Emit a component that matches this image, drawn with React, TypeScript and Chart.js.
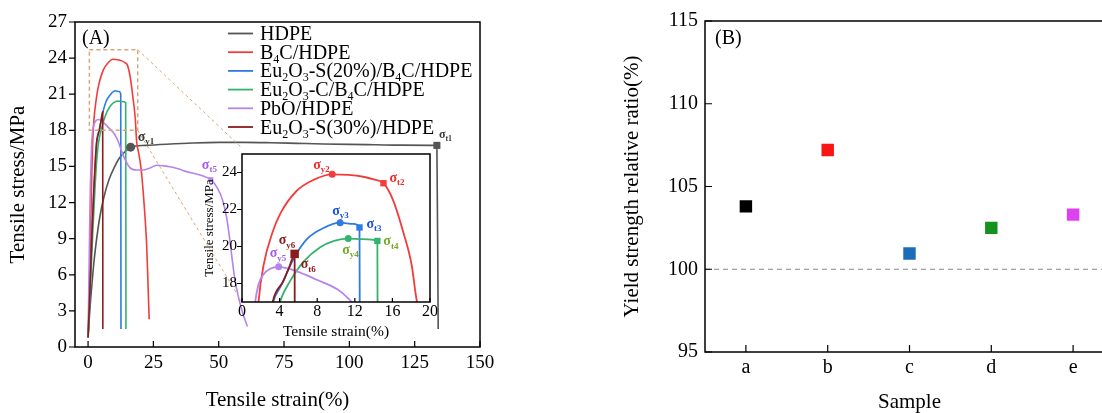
import React, { useEffect, useRef } from 'react';
import { Chart, registerables } from 'chart.js';

Chart.register(...registerables);

const SERIF = '"Liberation Serif", "Times New Roman", Times, serif';

// ---------- Panel A data ----------
const seriesNames = [
  'HDPE',
  'B₄C/HDPE',
  'Eu₂O₃-S(20%)/B₄C/HDPE',
  'Eu₂O₃-C/B₄C/HDPE',
  'PbO/HDPE',
  'Eu₂O₃-S(30%)/HDPE',
];
const seriesColors = ['#555555', '#f23c3c', '#2f7be0', '#34b36e', '#b784ec', '#8b1c1c'];

const hdpeStrain = [0, 0.5, 1, 2, 3, 4.5, 6, 8, 10, 12, 14, 16.3, 22, 30, 40, 50, 60, 70, 80, 90, 100, 110, 120, 133.5, 134];
const hdpeStress = [0.8, 2.5, 4, 6.5, 8.5, 10.8, 12.4, 13.9, 14.9, 15.7, 16.2, 16.6, 16.75, 16.85, 16.95, 17.0, 17.0, 16.97, 16.92, 16.87, 16.83, 16.8, 16.77, 16.75, 1.5];

const b4cStrain = [0, 0.3, 0.7, 1.1, 1.45, 1.77, 2.3, 3.2, 4.1, 5.8, 7.6, 9.6, 11.3, 12.9, 14.2, 15.05, 16.1, 17.2, 18.05, 18.6, 19.3, 20.3, 21.1, 21.8, 22.4, 22.8, 23.1, 23.4];
const b4cStress = [0.8, 3, 7, 11, 14.5, 17.06, 19.0, 20.7, 21.8, 23.0, 23.6, 23.9, 23.87, 23.77, 23.6, 23.42, 22.47, 20.7, 19.0, 17.06, 16.2, 14.8, 12.9, 10.8, 8.6, 6.2, 4.2, 2.3];

const euS20Strain = [0, 0.5, 1.0, 1.6, 2.2, 2.8, 3.36, 4.07, 5.5, 6.9, 8.67, 10.44, 11.86, 12.5, 12.6];
const euS20Stress = [0.8, 3.5, 6.5, 10, 13, 15.5, 17.06, 17.8, 19.35, 20.4, 21.0, 21.29, 21.22, 21.03, 1.5];

const euCStrain = [0, 0.6, 1.2, 1.9, 2.6, 3.3, 4.07, 5.13, 6.55, 8.32, 9.8, 11.3, 12.9, 14.4, 14.5];
const euCStress = [0.8, 3.5, 6.5, 10, 13, 15.5, 17.06, 18.14, 19.18, 19.96, 20.3, 20.43, 20.4, 20.3, 1.5];

const pboStrain = [0, 0.3, 0.6, 0.9, 1.2, 1.42, 1.77, 2.3, 3.0, 3.9, 5.84, 7.96, 10.1, 11.3, 13.5, 16, 18.5, 21, 23.5, 26.3, 29, 31.3, 34.5, 37.7, 41, 44, 47, 49.5, 51.5, 53, 54.2, 55.2, 56.2, 57.5, 59.2, 61];
const pboStress = [0.8, 5, 10, 13.5, 15.8, 17.06, 17.97, 18.5, 18.8, 18.9, 18.66, 18.2, 17.7, 17.2, 15.9, 14.9, 14.7, 14.7, 14.85, 15.1, 15.05, 14.98, 14.8, 14.57, 14.4, 14.2, 13.9, 13.2, 12.2, 10.8, 9.0, 7.2, 5.6, 4.2, 2.8, 1.7];

const euS30Strain = [0, 0.5, 1.0, 1.6, 2.2, 2.8, 3.29, 4.42, 5.0, 5.6, 5.65];
const euS30Stress = [0.8, 3.5, 6.5, 10, 13, 15.5, 17.06, 18.14, 18.85, 19.55, 1.5];

const strainSets = [hdpeStrain, b4cStrain, euS20Strain, euCStrain, pboStrain, euS30Strain];
const stressSets = [hdpeStress, b4cStress, euS20Stress, euCStress, pboStress, euS30Stress];

// characteristic points (yield / break)
const keyNames = ['σy1', 'σt1', 'σt5', 'σy2', 'σt2', 'σy3', 'σt3', 'σy4', 'σt4', 'σy5', 'σy6', 'σt6'];
const keyStrain = [16.3, 133.5, 47, 9.6, 15.05, 10.44, 12.5, 11.3, 14.4, 3.9, 5.6, 5.6];
const keyStress = [16.6, 16.75, 13.9, 23.9, 23.42, 21.29, 21.03, 20.43, 20.3, 18.9, 19.6, 19.6];
const keySeries = [0, 0, 4, 1, 1, 2, 2, 3, 3, 4, 5, 5];
const mainKeys = ['σy1', 'σt1', 'σt5'];

const strainTicks = [0, 25, 50, 75, 100, 125, 150];
const stressTicks = [0, 3, 6, 9, 12, 15, 18, 21, 24, 27];
const insetStrainTicks = [0, 4, 8, 12, 16, 20];
const insetStressTicks = [18, 20, 22, 24];
const zoomBoxStrain = [0.5, 19];
const zoomBoxStress = [18, 24.7];

// ---------- Panel B data ----------
const samples = ['a', 'b', 'c', 'd', 'e'];
const yieldRatio = [103.8, 107.2, 100.95, 102.5, 103.3];
const sampleColors = ['#000000', '#fa1414', '#1a6db6', '#15921c', '#e040f4'];
const ratioTicks = [95, 100, 105, 110, 115];
const referenceRatio = 100;

// ---------- styles ----------
const labelColors = ['#3a3a3a', '#f02a2a', '#1d4fe6', '#74aa2c', '#a45cf0', '#8b1a1a'];
const labelOffsets: Record<string, [number, number]> = {
  'σy1': [7, -10], 'σt1': [2, -10], 'σt5': [-9, -14],
  'σy2': [-19, -9], 'σt2': [6, -5], 'σy3': [-8, -11], 'σt3': [7, -3],
  'σy4': [-6, 12], 'σt4': [6, 1], 'σy5': [-9, -13], 'σy6': [-16, -13], 'σt6': [6, 11],
};

const INSET = { x: 195, y: 140, w: 250, h: 205, l: 47, t: 8, r: 15, b: 43 };
const INSET_LEFT = INSET.x + INSET.l;
const INSET_TOP = INSET.y + INSET.t;
const INSET_BOTTOM = INSET.y + INSET.h - INSET.b;

const SUBS: Record<string, string> = { '₀': '0', '₁': '1', '₂': '2', '₃': '3', '₄': '4' };

function drawRich(ctx: CanvasRenderingContext2D, text: string, x: number, baseline: number, size: number) {
  const segs: { t: string; sub: boolean }[] = [];
  for (const ch of text) {
    const sub = ch in SUBS;
    const c = sub ? SUBS[ch] : ch;
    if (segs.length && segs[segs.length - 1].sub === sub) segs[segs.length - 1].t += c;
    else segs.push({ t: c, sub });
  }
  let cx = x;
  for (const s of segs) {
    ctx.font = `${s.sub ? Math.round(size * 0.62) : size}px ${SERIF}`;
    ctx.fillText(s.t, cx, baseline + (s.sub ? size * 0.2 : 0));
    cx += ctx.measureText(s.t).width;
  }
}

function drawSigma(ctx: CanvasRenderingContext2D, name: string, x: number, yc: number, color: string, size: number) {
  ctx.fillStyle = color;
  ctx.textBaseline = 'alphabetic';
  ctx.textAlign = 'left';
  const base = yc + size * 0.24;
  ctx.font = `bold ${size}px ${SERIF}`;
  ctx.fillText('σ', x, base);
  const w = ctx.measureText('σ').width;
  ctx.font = `bold ${Math.round(size * 0.64)}px ${SERIF}`;
  ctx.fillText(name.slice(1), x + w, base + size * 0.24);
}

function makeFrame(o: { xIn: boolean; xLen: number; yIn: boolean; yLen: number; lw: number }) {
  return {
    id: 'frame',
    afterDraw(chart: any) {
      const { ctx, chartArea: ca } = chart;
      const xs = chart.scales.x;
      const ys = chart.scales.y;
      ctx.save();
      ctx.strokeStyle = '#000';
      ctx.lineWidth = o.lw;
      ctx.setLineDash([]);
      ctx.strokeRect(ca.left, ca.top, ca.right - ca.left, ca.bottom - ca.top);
      ctx.lineWidth = 1.2;
      ctx.beginPath();
      xs.ticks.forEach((_t: any, i: number) => {
        const p = xs.getPixelForTick(i);
        ctx.moveTo(p, ca.bottom);
        ctx.lineTo(p, ca.bottom + (o.xIn ? -o.xLen : o.xLen));
      });
      ys.ticks.forEach((_t: any, i: number) => {
        const p = ys.getPixelForTick(i);
        ctx.moveTo(ca.left, p);
        ctx.lineTo(ca.left + (o.yIn ? o.yLen : -o.yLen), p);
      });
      ctx.stroke();
      ctx.restore();
    },
  };
}

function lineDatasets(width: number) {
  return seriesNames.map((name, i) => ({
    label: name,
    data: strainSets[i].map((x, k) => ({ x, y: stressSets[i][k] })),
    showLine: true,
    borderColor: seriesColors[i],
    backgroundColor: seriesColors[i],
    borderWidth: width,
    pointRadius: 0,
    pointHoverRadius: 0,
    cubicInterpolationMode: 'monotone' as const,
    order: 7 - i,
  }));
}

function markerDataset(names: string[], sizes: Record<string, number>) {
  const idx = keyNames.map((n, i) => i).filter((i) => names.includes(keyNames[i]));
  return {
    label: 'markers',
    data: idx.map((i) => ({ x: keyStrain[i], y: keyStress[i] })),
    showLine: false,
    pointStyle: idx.map((i) => (keyNames[i].startsWith('σt') || keyNames[i] === 'σy6' ? 'rect' : 'circle')),
    pointRadius: idx.map((i) => sizes[keyNames[i]] ?? (keyNames[i].startsWith('σt') ? 4.5 : 3.5)),
    pointHoverRadius: idx.map((i) => sizes[keyNames[i]] ?? 4),
    pointBackgroundColor: idx.map((i) => seriesColors[keySeries[i]]),
    pointBorderColor: idx.map((i) => seriesColors[keySeries[i]]),
    pointBorderWidth: 0,
    order: 0,
  };
}

function axisTicks(values: number[]) {
  return (s: any) => {
    s.ticks = values.map((v) => ({ value: v }));
  };
}

export default function App() {
  const mainRef = useRef<HTMLCanvasElement>(null);
  const insetRef = useRef<HTMLCanvasElement>(null);
  const rightRef = useRef<HTMLCanvasElement>(null);

  useEffect(() => {
    Chart.defaults.font.family = SERIF;
    Chart.defaults.color = '#000';

    const mainOverlay = {
      id: 'mainOverlay',
      afterDatasetsDraw(chart: any) {
        const { ctx } = chart;
        const x = chart.scales.x;
        const y = chart.scales.y;
        ctx.save();
        // zoom box + connectors
        const bx1 = x.getPixelForValue(zoomBoxStrain[0]);
        const bx2 = x.getPixelForValue(zoomBoxStrain[1]);
        const by1 = y.getPixelForValue(zoomBoxStress[1]);
        const by2 = y.getPixelForValue(zoomBoxStress[0]);
        ctx.strokeStyle = '#d9a677';
        ctx.lineWidth = 1.5;
        ctx.setLineDash([4, 3]);
        ctx.strokeRect(bx1, by1, bx2 - bx1, by2 - by1);
        ctx.lineWidth = 1;
        ctx.setLineDash([3, 3]);
        ctx.beginPath();
        ctx.moveTo(bx2, by1);
        ctx.lineTo(INSET_LEFT, INSET_TOP);
        ctx.moveTo(bx2, by2);
        ctx.lineTo(INSET_LEFT, INSET_BOTTOM);
        ctx.stroke();
        ctx.setLineDash([]);
        // legend
        ctx.textBaseline = 'alphabetic';
        ctx.textAlign = 'left';
        seriesNames.forEach((name, i) => {
          const base = 40 + i * 18.7;
          ctx.strokeStyle = seriesColors[i];
          ctx.lineWidth = 1.8;
          ctx.beginPath();
          ctx.moveTo(228, base - 6.5);
          ctx.lineTo(253, base - 6.5);
          ctx.stroke();
          ctx.fillStyle = '#000';
          drawRich(ctx, name, 260, base, 20);
        });
        // panel label
        ctx.fillStyle = '#000';
        ctx.font = `20px ${SERIF}`;
        ctx.fillText('(A)', 82, 44);
        // sigma labels
        keyNames.forEach((n, i) => {
          if (!mainKeys.includes(n)) return;
          const [dx, dy] = labelOffsets[n];
          const px = x.getPixelForValue(keyStrain[i]);
          const py = y.getPixelForValue(keyStress[i]);
          drawSigma(ctx, n, px + dx, py + dy, labelColors[keySeries[i]], n === 'σt1' ? 12 : 14);
        });
        ctx.restore();
      },
    };

    const main = new Chart(mainRef.current!, {
      type: 'scatter',
      data: {
        datasets: [
          ...lineDatasets(1.6),
          markerDataset(mainKeys, { 'σy1': 4.5, 'σt1': 5, 'σt5': 3.5 }),
        ] as any,
      },
      options: {
        responsive: false,
        animation: false,
        devicePixelRatio: 1,
        events: [],
        layout: { padding: { left: 0, top: 22, right: 40, bottom: 0 } },
        plugins: { legend: { display: false }, tooltip: { enabled: false } },
        scales: {
          x: {
            type: 'linear',
            min: -5,
            max: 150,
            grid: { display: false, drawTicks: false },
            border: { display: false },
            afterBuildTicks: axisTicks(strainTicks),
            afterFit: (s: any) => { s.height = 66; },
            ticks: { font: { family: SERIF, size: 19 }, color: '#000', padding: 5, maxRotation: 0, autoSkip: false },
            title: { display: true, text: 'Tensile strain(%)', color: '#000', font: { family: SERIF, size: 21, lineHeight: 1 }, padding: { top: 0, bottom: 2.5 } },
          },
          y: {
            type: 'linear',
            min: 0,
            max: 27,
            grid: { display: false, drawTicks: false },
            border: { display: false },
            afterBuildTicks: axisTicks(stressTicks),
            afterFit: (s: any) => { s.width = 75; },
            ticks: { font: { family: SERIF, size: 19 }, color: '#000', padding: 8, autoSkip: false },
            title: { display: true, text: 'Tensile stress/MPa', color: '#000', font: { family: SERIF, size: 21, lineHeight: 1 }, padding: { top: 7.5, bottom: 0 } },
          },
        },
      } as any,
      plugins: [makeFrame({ xIn: true, xLen: 6, yIn: false, yLen: 6, lw: 1.5 }), mainOverlay],
    });

    const insetBg = {
      id: 'insetBg',
      beforeDraw(chart: any) {
        const { ctx, chartArea: ca } = chart;
        ctx.save();
        ctx.fillStyle = '#fff';
        ctx.fillRect(ca.left, ca.top, ca.right - ca.left, ca.bottom - ca.top);
        ctx.restore();
      },
      afterDraw(chart: any) {
        const { ctx } = chart;
        const x = chart.scales.x;
        const y = chart.scales.y;
        ctx.save();
        keyNames.forEach((n, i) => {
          if (mainKeys.includes(n)) return;
          const [dx, dy] = labelOffsets[n];
          const px = x.getPixelForValue(keyStrain[i]);
          const py = y.getPixelForValue(keyStress[i]);
          drawSigma(ctx, n, px + dx, py + dy, labelColors[keySeries[i]], 14);
        });
        ctx.restore();
      },
    };

    const insetKeys = keyNames.filter((n) => !mainKeys.includes(n) && n !== 'σt6');
    const inset = new Chart(insetRef.current!, {
      type: 'scatter',
      data: {
        datasets: [
          ...lineDatasets(1.8),
          markerDataset(insetKeys, { 'σy6': 6 }),
        ] as any,
      },
      options: {
        responsive: false,
        animation: false,
        devicePixelRatio: 1,
        events: [],
        layout: { padding: { left: 0, top: INSET.t, right: INSET.r, bottom: 0 } },
        plugins: { legend: { display: false }, tooltip: { enabled: false } },
        scales: {
          x: {
            type: 'linear',
            min: 0,
            max: 20,
            grid: { display: false, drawTicks: false },
            border: { display: false },
            afterBuildTicks: axisTicks(insetStrainTicks),
            afterFit: (s: any) => { s.height = INSET.b; },
            ticks: { font: { family: SERIF, size: 16 }, color: '#000', padding: 0, maxRotation: 0, autoSkip: false },
            title: { display: true, text: 'Tensile strain(%)', color: '#000', font: { family: SERIF, size: 15.5, lineHeight: 1 }, padding: { top: 0, bottom: 5.5 } },
          },
          y: {
            type: 'linear',
            min: 17,
            max: 25,
            grid: { display: false, drawTicks: false },
            border: { display: false },
            afterBuildTicks: axisTicks(insetStressTicks),
            afterFit: (s: any) => { s.width = INSET.l; },
            ticks: { font: { family: SERIF, size: 15 }, color: '#000', padding: 5, autoSkip: false },
            title: { display: true, text: 'Tensile stress/MPa', color: '#000', font: { family: SERIF, size: 13, lineHeight: 1 }, padding: { top: 8.5, bottom: 0 } },
          },
        },
      } as any,
      plugins: [insetBg, makeFrame({ xIn: true, xLen: 4, yIn: false, yLen: 5, lw: 1.5 })],
    });

    const rightOverlay = {
      id: 'rightOverlay',
      beforeDatasetsDraw(chart: any) {
        const { ctx, chartArea: ca } = chart;
        const py = chart.scales.y.getPixelForValue(referenceRatio);
        ctx.save();
        ctx.strokeStyle = '#888';
        ctx.lineWidth = 1.2;
        ctx.setLineDash([5, 4]);
        ctx.beginPath();
        ctx.moveTo(ca.left, py);
        ctx.lineTo(ca.right, py);
        ctx.stroke();
        ctx.restore();
      },
      afterDraw(chart: any) {
        const { ctx, chartArea: ca } = chart;
        ctx.save();
        ctx.fillStyle = '#000';
        ctx.textBaseline = 'alphabetic';
        ctx.textAlign = 'left';
        ctx.font = `20px ${SERIF}`;
        ctx.fillText('(B)', ca.left + 10, 44);
        ctx.restore();
      },
    };

    const right = new Chart(rightRef.current!, {
      type: 'line',
      data: {
        labels: samples,
        datasets: [
          {
            label: 'Yield strength relative ratio',
            data: yieldRatio,
            showLine: false,
            pointStyle: 'rect',
            pointRadius: 8.8,
            pointHoverRadius: 8.8,
            pointBackgroundColor: sampleColors,
            pointBorderColor: sampleColors,
            pointBorderWidth: 0,
          },
        ],
      },
      options: {
        responsive: false,
        animation: false,
        devicePixelRatio: 1,
        events: [],
        layout: { padding: { left: 0, top: 21, right: 16, bottom: 0 } },
        plugins: { legend: { display: false }, tooltip: { enabled: false } },
        scales: {
          x: {
            type: 'category',
            offset: true,
            grid: { display: false, drawTicks: false },
            border: { display: false },
            afterFit: (s: any) => { s.height = 61; },
            ticks: { font: { family: SERIF, size: 20 }, color: '#000', padding: 4, maxRotation: 0, autoSkip: false },
            title: { display: true, text: 'Sample', color: '#000', font: { family: SERIF, size: 21, lineHeight: 1 }, padding: { top: 0, bottom: 0 } },
          },
          y: {
            type: 'linear',
            min: 95,
            max: 115,
            grid: { display: false, drawTicks: false },
            border: { display: false },
            afterBuildTicks: axisTicks(ratioTicks),
            afterFit: (s: any) => { s.width = 105; },
            ticks: { font: { family: SERIF, size: 20 }, color: '#000', padding: 7, autoSkip: false },
            title: { display: true, text: 'Yield strength relative ratio(%)', color: '#000', font: { family: SERIF, size: 21, lineHeight: 1 }, padding: { top: 21.5, bottom: 0 } },
          },
        },
      } as any,
      plugins: [rightOverlay, makeFrame({ xIn: true, xLen: 7, yIn: true, yLen: 7, lw: 1.5 })],
    });

    return () => {
      main.destroy();
      inset.destroy();
      right.destroy();
    };
  }, []);

  return (
    <div style={{ position: 'absolute', left: 0, top: 0, width: 1102, height: 413, overflow: 'hidden', background: '#fff' }}>
      <canvas ref={mainRef} width={520} height={413} style={{ position: 'absolute', left: 0, top: 0 }} />
      <canvas ref={insetRef} width={INSET.w} height={INSET.h} style={{ position: 'absolute', left: INSET.x, top: INSET.y }} />
      <canvas ref={rightRef} width={530} height={413} style={{ position: 'absolute', left: 600, top: 0 }} />
    </div>
  );
}
